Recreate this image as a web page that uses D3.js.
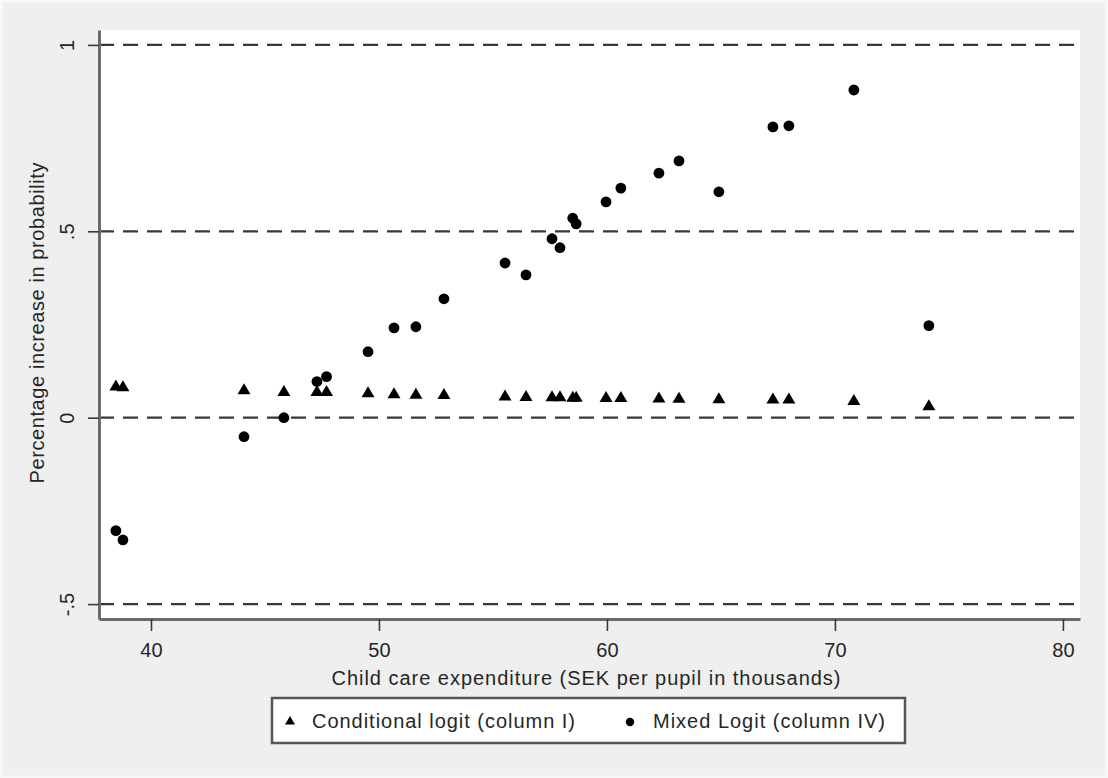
<!DOCTYPE html>
<html>
<head>
<meta charset="utf-8">
<script src="https://cdn.jsdelivr.net/npm/d3@7"></script>
<style>
    body { margin: 0; background: #efefef; }
    text { font-family: "Liberation Sans", Arial, sans-serif; fill: #262626; }
    .grid { stroke: #383838; stroke-width: 2.2; stroke-dasharray: 15 9; }
    .axis .domain { stroke: #6b6b6b; stroke-width: 3; }
    .axis .tick line { stroke: #3a3a3a; stroke-width: 1.6; }
</style>
</head>
<body>
<svg id="chart"></svg>
<script>
// expenditure per pupil (thousands SEK), one entry per municipality
const expenditure = [38.46, 38.77, 44.08, 45.83, 47.28, 47.7, 49.52, 50.66, 51.62, 52.85,
                     55.53, 56.45, 57.59, 57.94, 58.5, 58.65, 59.96, 60.61, 62.28, 63.16,
                     64.91, 67.28, 67.98, 70.83, 74.12]

const conditionalLogit = [0.085, 0.083, 0.075, 0.070, 0.070, 0.070, 0.067, 0.064, 0.063, 0.062,
                          0.058, 0.057, 0.056, 0.056, 0.055, 0.055, 0.054, 0.054, 0.053, 0.052,
                          0.051, 0.050, 0.050, 0.046, 0.032]

const mixedLogit = [-0.303, -0.328, -0.051, 0.0, 0.097, 0.110, 0.177, 0.241, 0.244, 0.319,
                    0.415, 0.383, 0.480, 0.456, 0.535, 0.520, 0.579, 0.616, 0.656, 0.689,
                    0.606, 0.780, 0.783, 0.879, 0.247]

const xTicks = [40, 50, 60, 70, 80]
const yTicks = [-0.5, 0, 0.5, 1]
const yTickLabels = ['-.5', '0', '.5', '1']

const legendLabels = ['Conditional logit (column I)', 'Mixed Logit (column IV)']

const W = 1108, H = 778

const plot = { left: 99, right: 1080, top: 30, bottom: 619 }

var svg = d3.select('#chart')
            .attr('width', W)
            .attr('height', H)

// page background with its light outer rim
svg.append('rect')
   .attr('width', W).attr('height', H)
   .attr('fill', '#efefef')
svg.append('rect')
   .attr('x', 1).attr('y', 1)
   .attr('width', W - 2).attr('height', H - 2)
   .attr('fill', 'none')
   .attr('stroke', '#f8f8f8')
   .attr('stroke-width', 3)

var x = d3.scaleLinear()
          .domain([37.72, 80.75])
          .range([plot.left, plot.right])

var y = d3.scaleLinear()
          .domain([-0.54, 1.04])
          .range([plot.bottom, plot.top])

// white plot region
svg.append('rect')
   .attr('x', plot.left).attr('y', plot.top)
   .attr('width', plot.right - plot.left)
   .attr('height', plot.bottom - plot.top)
   .attr('fill', '#ffffff')

// dashed reference lines
svg.selectAll('.grid')
   .data(yTicks)
   .enter().append('line')
   .attr('class', 'grid')
   .attr('x1', plot.left).attr('x2', plot.right)
   .attr('y1', function(d) { return y(d) })
   .attr('y2', function(d) { return y(d) })

var rows = expenditure.map(function(e, i) {
    return { x: e, cl: conditionalLogit[i], ml: mixedLogit[i] }
})

var triangle = 'M0,-6.5L6.5,4.5L-6.5,4.5Z'

var g = svg.append('g')

g.selectAll('.tri')
 .data(rows)
 .enter().append('path')
 .attr('class', 'tri')
 .attr('d', triangle)
 .attr('fill', '#000')
 .attr('transform', function(d) {
     return 'translate(' + x(d.x) + ',' + y(d.cl) + ')' })

g.selectAll('.dot')
 .data(rows)
 .enter().append('circle')
 .attr('class', 'dot')
 .attr('r', 5.4)
 .attr('fill', '#000')
 .attr('cx', function(d) { return x(d.x) })
 .attr('cy', function(d) { return y(d.ml) })

// axes
var xAxis = svg.append('g')
               .attr('class', 'axis')
               .attr('transform', 'translate(0,' + plot.bottom + ')')
               .call(d3.axisBottom(x).tickValues(xTicks)
                       .tickSize(12).tickSizeOuter(0))
xAxis.selectAll('text')
     .attr('y', 31).attr('dy', '0.35em')
     .style('font-size', '20px')

var yAxis = svg.append('g')
               .attr('class', 'axis')
               .attr('transform', 'translate(' + plot.left + ',0)')
               .call(d3.axisLeft(y).tickValues(yTicks)
                       .tickFormat(function(d, i) { return yTickLabels[i] })
                       .tickSize(11).tickSizeOuter(0))
yAxis.selectAll('text')
     .attr('transform', 'rotate(-90)')
     .attr('x', 0).attr('y', -32)
     .attr('dy', '0.35em')
     .style('text-anchor', 'middle')
     .style('font-size', '20px')

// axis titles
svg.append('text')
   .attr('x', 586)
   .attr('y', 678).attr('dy', '0.35em')
   .attr('textLength', 509).attr('lengthAdjust', 'spacing')
   .style('text-anchor', 'middle')
   .style('font-size', '20px')
   .text('Child care expenditure (SEK per pupil in thousands)')

svg.append('text')
   .attr('transform', 'translate(37,323) rotate(-90)')
   .attr('dy', '0.35em')
   .attr('textLength', 321).attr('lengthAdjust', 'spacing')
   .style('text-anchor', 'middle')
   .style('font-size', '20px')
   .text('Percentage increase in probability')

// legend
var legend = svg.append('g')
legend.append('rect')
      .attr('x', 272).attr('y', 698)
      .attr('width', 633).attr('height', 45)
      .attr('fill', '#fff')
      .attr('stroke', '#555')
      .attr('stroke-width', 2.5)

legend.append('path')
      .attr('d', 'M0,-5L5,3.5L-5,3.5Z')
      .attr('transform', 'translate(290,721)')
legend.append('text')
      .attr('x', 312).attr('y', 721).attr('dy', '0.35em')
      .attr('textLength', 263).attr('lengthAdjust', 'spacing')
      .style('font-size', '20px')
      .text(legendLabels[0])

legend.append('circle')
      .attr('cx', 630).attr('cy', 722).attr('r', 4.2)
legend.append('text')
      .attr('x', 653).attr('y', 721).attr('dy', '0.35em')
      .attr('textLength', 232).attr('lengthAdjust', 'spacing')
      .style('font-size', '20px')
      .text(legendLabels[1])
</script>
</body>
</html>
